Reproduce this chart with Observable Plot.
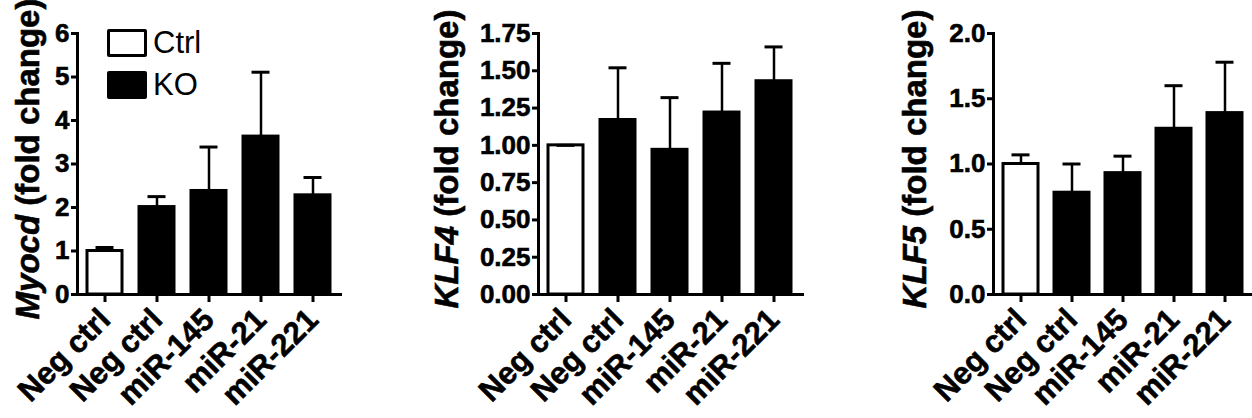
<!DOCTYPE html>
<html><head><meta charset="utf-8">
<script src="https://cdn.jsdelivr.net/npm/d3@7"></script>
<script src="https://cdn.jsdelivr.net/npm/@observablehq/plot@0.6"></script>
<style>
body{margin:0;background:#fff;}
#wrap{position:relative;width:1252px;height:418px;overflow:hidden;font-family:"Liberation Sans",Arial,sans-serif;}
.panel{position:absolute;top:0;}
.panel svg text{stroke:#000;stroke-width:0.6px;}
.leg{position:absolute;display:flex;align-items:center;font-size:31px;color:#000;}
.leg .sw{width:40px;height:28px;box-sizing:border-box;border:3px solid #000;border-radius:2px;margin-right:6px;}
</style></head><body><div id="wrap"></div>
<script>
// ---- data ----
const categories = ["Neg ctrl", "Neg ctrl", "miR-145", "miR-21", "miR-221"];
const groups = ["Ctrl", "KO", "KO", "KO", "KO"];
const groupNames = ["Ctrl", "KO"];
const groupFills = ["#ffffff", "#000000"];

const myocdMean = [1.00, 2.01, 2.38, 3.63, 2.28];
const myocdSem  = [0.08, 0.24, 1.01, 1.48, 0.41];
const myocdTicks = [0, 1, 2, 3, 4, 5, 6];

const klf4Mean = [1.00, 1.17, 0.97, 1.22, 1.43];
const klf4Sem  = [0.00, 0.35, 0.35, 0.33, 0.23];
const klf4Ticks = [0, 0.25, 0.5, 0.75, 1.0, 1.25, 1.5, 1.75];

const klf5Mean = [1.00, 0.78, 0.93, 1.27, 1.39];
const klf5Sem  = [0.07, 0.22, 0.13, 0.33, 0.39];
const klf5Ticks = [0, 0.5, 1.0, 1.5, 2.0];

const panels = [
  {gene: "Myocd", mean: myocdMean, sem: myocdSem, ticks: myocdTicks, fmt: d3.format("d"),
   left: 0, width: 350, ml: 77, mr: 10, labX: 39},
  {gene: "KLF4", mean: klf4Mean, sem: klf4Sem, ticks: klf4Ticks, fmt: d3.format(".2f"),
   left: 420, width: 392, ml: 118, mr: 10, labX: 38},
  {gene: "KLF5", mean: klf5Mean, sem: klf5Sem, ticks: klf5Ticks, fmt: d3.format(".1f"),
   left: 840, width: 412, ml: 153, mr: 0, labX: 86},
];

const wrap = document.getElementById("wrap");
const fillOf = g => groupFills[groupNames.indexOf(g)];

panels.forEach(p => {
  const rows = categories.map((c, i) => ({i, cat: c, group: groups[i], mean: p.mean[i], top: p.mean[i] + p.sem[i]}));
  const ymax = p.ticks[p.ticks.length - 1];
  const chart = Plot.plot({
    width: p.width, height: 418,
    marginLeft: p.ml, marginRight: p.mr, marginTop: 33, marginBottom: 124,
    style: {fontFamily: '"Liberation Sans", Arial, sans-serif', fontWeight: "bold", fontSize: "26px", color: "#000", background: "transparent", overflow: "visible"},
    x: {type: "band", domain: rows.map(d => d.i), paddingInner: 0.32, paddingOuter: 0.16, label: null},
    y: {domain: [0, ymax], label: null},
    marks: [
      Plot.barY(rows, {x: "i", y: "mean", fill: d => fillOf(d.group), stroke: "#000", strokeWidth: 3}),
      Plot.ruleX(rows, {x: "i", y1: "mean", y2: "top", stroke: "#000", strokeWidth: 2.5}),
      Plot.tickY(rows, {x: "i", y: "top", stroke: "#000", strokeWidth: 3, insetLeft: 8.5, insetRight: 8.5}),
      Plot.frame({anchor: "left", stroke: "#000", strokeWidth: 3}),
      Plot.frame({anchor: "bottom", stroke: "#000", strokeWidth: 3}),
      Plot.axisY({ticks: p.ticks, tickFormat: p.fmt, tickSize: 6, tickPadding: 2, strokeWidth: 3, fontSize: 26, fill: "#000", label: null}),
      Plot.axisX({tickFormat: i => categories[i], tickRotate: -45, tickSize: 8, tickPadding: 12, strokeWidth: 3, fontSize: 31, fill: "#000", label: null})
    ]
  });
  const div = document.createElement("div");
  div.className = "panel";
  div.style.left = p.left + "px";
  div.appendChild(chart);
  wrap.appendChild(div);

  // rotated y-axis title with italic gene name
  const svg = d3.select(chart.tagName.toLowerCase() === "svg" ? chart : chart.querySelector("svg"));
  const t = svg.append("text")
    .attr("transform", `translate(${p.labX},159) rotate(-90)`)
    .attr("text-anchor", "middle")
    .attr("fill", "#000")
    .style("font-size", "33px")
    .style("font-weight", "bold");
  t.append("tspan").style("font-style", "italic").text(p.gene);
  t.append("tspan").text(" (fold change)");
});

// legend (first panel)
groupNames.forEach((g, k) => {
  const it = document.createElement("div");
  it.className = "leg";
  it.style.left = "107px";
  it.style.top = (29 + k * 42) + "px";
  it.style.height = "28px";
  const sw = document.createElement("div");
  sw.className = "sw";
  sw.style.background = groupFills[k];
  const tx = document.createElement("span");
  tx.textContent = g;
  it.appendChild(sw); it.appendChild(tx);
  wrap.appendChild(it);
});
</script></body></html>
